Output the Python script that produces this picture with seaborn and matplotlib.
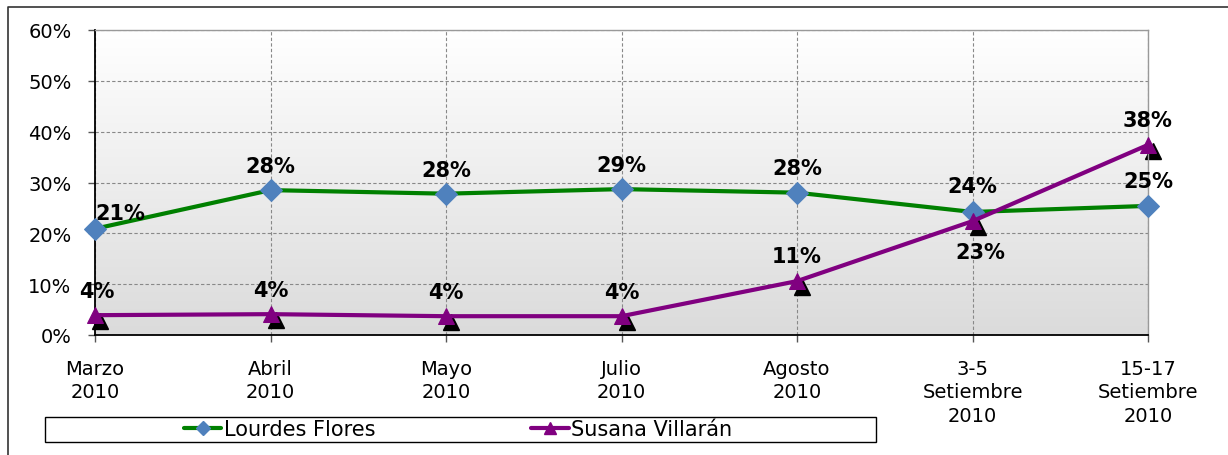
import numpy as np
import pandas as pd
import matplotlib
matplotlib.use("Agg")
import matplotlib.pyplot as plt
import matplotlib.transforms as mtransforms
from matplotlib.patches import Rectangle
from matplotlib.lines import Line2D
import seaborn as sns

# data
periodos = ["Marzo\n2010", "Abril\n2010", "Mayo\n2010", "Julio\n2010", "Agosto\n2010",
            "3-5\nSetiembre\n2010", "15-17\nSetiembre\n2010"]
lourdes = [20.9, 28.5, 27.8, 28.7, 28.0, 24.2, 25.4]
susana = [3.9, 4.1, 3.7, 3.7, 10.6, 22.4, 37.4]
lourdes_txt = ["21%", "28%", "28%", "29%", "28%", "24%", "25%"]
susana_txt = ["4%", "4%", "4%", "4%", "11%", "23%", "38%"]

df = pd.DataFrame({"x": range(len(periodos)), "lourdes": lourdes, "susana": susana})

sns.set_style("white")
plt.rcParams["font.family"] = ["DejaVu Sans"]
plt.rcParams["text.color"] = "black"
plt.rcParams["xtick.color"] = "black"
plt.rcParams["ytick.color"] = "black"

fig = plt.figure(figsize=(12.28, 4.56), dpi=100)
ax = fig.add_axes([95 / 1228, 1 - 336 / 456, 1053 / 1228, 305 / 456])

# gradient background of the plot area
grad = np.linspace(0, 1, 256).reshape(-1, 1)
ax.imshow(grad, extent=[0, 1, 0, 1], transform=ax.transAxes, aspect="auto",
          cmap=matplotlib.colors.LinearSegmentedColormap.from_list("g", ["#dbdbdb", "#ffffff"]),
          origin="lower", zorder=0)

green = "#008000"
purple = "#800080"

sns.lineplot(data=df, x="x", y="lourdes", color=green, lw=3, marker="D", markersize=11,
             markerfacecolor="#4f81bd", markeredgecolor="#4f81bd", ax=ax, zorder=4,
             clip_on=False)

# dark shadow under the triangles
shadow = mtransforms.offset_copy(ax.transData, fig=fig, x=5, y=-6, units="dots")
ax.plot(df["x"], df["susana"], ls="none", marker="^", markersize=12, color="black",
        transform=shadow, zorder=3, clip_on=False)
sns.lineplot(data=df, x="x", y="susana", color=purple, lw=3, marker="^", markersize=12,
             markerfacecolor=purple, markeredgecolor=purple, ax=ax, zorder=5,
             clip_on=False)

bold = dict(fontsize=15, fontweight="bold", ha="center", va="center", zorder=6)
l_off = [(25, 16), (0, 24), (0, 24), (0, 24), (0, 25), (0, 26), (0, 25)]
for i, (v, t) in enumerate(zip(lourdes, lourdes_txt)):
    ax.annotate(t, (i, v), xytext=l_off[i], textcoords="offset pixels", **bold)
s_off = [(2, 24), (0, 24), (0, 24), (0, 24), (0, 25), (8, -31), (0, 25)]
for i, (v, t) in enumerate(zip(susana, susana_txt)):
    ax.annotate(t, (i, v), xytext=s_off[i], textcoords="offset pixels", **bold)

ax.set_xlim(0, len(periodos) - 1)
ax.set_ylim(0, 60)
ax.set_xticks(range(len(periodos)))
ax.set_xticklabels(periodos, fontsize=14, linespacing=1.3)
ax.set_yticks(range(0, 61, 10))
ax.set_yticklabels([f"{v}%" for v in range(0, 61, 10)], fontsize=14)
ax.set_xlabel("")
ax.set_ylabel("")
ax.tick_params(axis="both", direction="out", length=5, width=1, color="#555555",
               bottom=True, left=True)
ax.tick_params(axis="y", pad=12)
ax.tick_params(axis="x", pad=12)
ax.grid(True, color="#888888", ls=(0, (3, 2)), lw=0.8)
for s in ["top", "right"]:
    ax.spines[s].set_color("#999999")
    ax.spines[s].set_linewidth(1)
for s in ["left", "bottom"]:
    ax.spines[s].set_color("black")
    ax.spines[s].set_linewidth(1.3)
for s in ax.spines.values():
    s.set_zorder(3)

# outer border (open to the right)
fig.add_artist(Line2D([8 / 1228, 8 / 1228, 1], [0, 1 - 8 / 456, 1 - 8 / 456],
                      transform=fig.transFigure, color="#333333", lw=1.2))

# legend box
fig.patches.append(Rectangle((45 / 1228, 1 - 443 / 456), 831 / 1228, 25 / 456,
                             transform=fig.transFigure, facecolor="white",
                             edgecolor="black", lw=1))
handles = [
    Line2D([], [], color=green, lw=3, marker="D", markersize=7,
           markerfacecolor="#4f81bd", markeredgecolor="#4f81bd"),
    Line2D([], [], color=purple, lw=3, marker="^", markersize=9,
           markerfacecolor=purple, markeredgecolor=purple),
]
fig.legend(handles, ["Lourdes Flores", "Susana Villarán"], loc="center",
           bbox_to_anchor=(458 / 1228, 1 - 430 / 456), ncol=2, frameon=False,
           handlelength=1.8, handletextpad=0.1, columnspacing=7.5,
           prop={"family": "DejaVu Sans", "size": 15})

fig.savefig("out.png", dpi=100)
